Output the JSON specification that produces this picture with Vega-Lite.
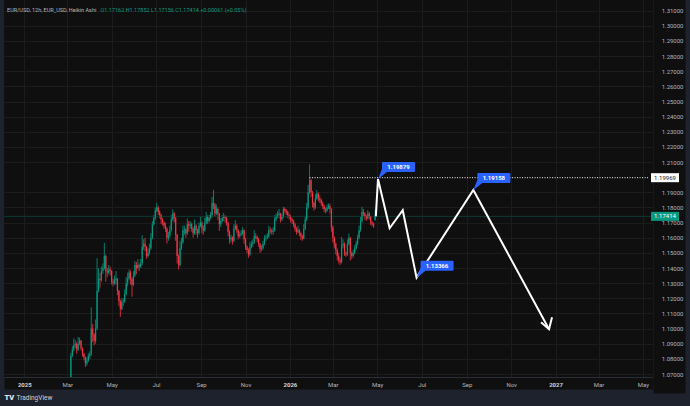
{
  "$schema": "https://vega.github.io/schema/vega-lite/v6.json",
  "width": 649,
  "height": 377,
  "autosize": {"type": "none"},
  "padding": {"left": 4, "top": 0, "right": 37, "bottom": 29},
  "background": "#1e222d",
  "config": {"view": {"fill": "#0f0f0f", "stroke": null}, "font": "Roboto"},
  "title": {"text": "EUR/USD, 12h, EUR_USD, Heikin Ashi", "orient": "top", "anchor": "start", "frame": "group", "offset": -15, "dx": 3, "fontSize": 5.5, "fontWeight": "normal", "color": "#b2b5be", "baseline": "middle"},
  "resolve": {"axis": {"x": "independent", "y": "independent"}},
  "datasets": {
    "candles": [
      {"t":"2025-03-04","o":1.048,"h":1.0665,"l":1.047,"c":1.065},
      {"t":"2025-03-06","o":1.065,"h":1.084,"l":1.064,"c":1.082},
      {"t":"2025-03-08","o":1.082,"h":1.0885,"l":1.081,"c":1.086},
      {"t":"2025-03-10","o":1.086,"h":1.0936,"l":1.085,"c":1.089},
      {"t":"2025-03-12","o":1.089,"h":1.0925,"l":1.087,"c":1.09},
      {"t":"2025-03-14","o":1.09,"h":1.091,"l":1.0835,"c":1.086},
      {"t":"2025-03-16","o":1.086,"h":1.0945,"l":1.085,"c":1.09},
      {"t":"2025-03-18","o":1.09,"h":1.094,"l":1.089,"c":1.092},
      {"t":"2025-03-20","o":1.092,"h":1.0925,"l":1.0855,"c":1.087},
      {"t":"2025-03-22","o":1.087,"h":1.0875,"l":1.0815,"c":1.083},
      {"t":"2025-03-24","o":1.083,"h":1.084,"l":1.079,"c":1.081},
      {"t":"2025-03-26","o":1.081,"h":1.0815,"l":1.0746,"c":1.077},
      {"t":"2025-03-28","o":1.077,"h":1.081,"l":1.0755,"c":1.079},
      {"t":"2025-03-30","o":1.079,"h":1.0837,"l":1.078,"c":1.082},
      {"t":"2025-04-01","o":1.082,"h":1.085,"l":1.08,"c":1.083},
      {"t":"2025-04-03","o":1.083,"h":1.114,"l":1.082,"c":1.1},
      {"t":"2025-04-05","o":1.1,"h":1.103,"l":1.091,"c":1.096},
      {"t":"2025-04-07","o":1.096,"h":1.097,"l":1.089,"c":1.092},
      {"t":"2025-04-09","o":1.092,"h":1.106,"l":1.09,"c":1.1},
      {"t":"2025-04-11","o":1.1,"h":1.1465,"l":1.099,"c":1.125},
      {"t":"2025-04-13","o":1.125,"h":1.14,"l":1.124,"c":1.133},
      {"t":"2025-04-15","o":1.133,"h":1.137,"l":1.127,"c":1.132},
      {"t":"2025-04-17","o":1.132,"h":1.141,"l":1.131,"c":1.138},
      {"t":"2025-04-19","o":1.138,"h":1.143,"l":1.136,"c":1.14},
      {"t":"2025-04-21","o":1.14,"h":1.1566,"l":1.139,"c":1.148},
      {"t":"2025-04-23","o":1.148,"h":1.149,"l":1.131,"c":1.138},
      {"t":"2025-04-25","o":1.138,"h":1.14,"l":1.134,"c":1.137},
      {"t":"2025-04-27","o":1.137,"h":1.142,"l":1.136,"c":1.139},
      {"t":"2025-04-29","o":1.139,"h":1.141,"l":1.135,"c":1.138},
      {"t":"2025-05-01","o":1.138,"h":1.1385,"l":1.129,"c":1.131},
      {"t":"2025-05-03","o":1.131,"h":1.133,"l":1.128,"c":1.13},
      {"t":"2025-05-05","o":1.13,"h":1.135,"l":1.129,"c":1.132},
      {"t":"2025-05-07","o":1.132,"h":1.138,"l":1.129,"c":1.133},
      {"t":"2025-05-09","o":1.133,"h":1.1335,"l":1.122,"c":1.125},
      {"t":"2025-05-11","o":1.125,"h":1.1255,"l":1.115,"c":1.118},
      {"t":"2025-05-13","o":1.118,"h":1.119,"l":1.1077,"c":1.113},
      {"t":"2025-05-15","o":1.113,"h":1.12,"l":1.112,"c":1.1175},
      {"t":"2025-05-17","o":1.1175,"h":1.12,"l":1.115,"c":1.118},
      {"t":"2025-05-19","o":1.118,"h":1.126,"l":1.117,"c":1.123},
      {"t":"2025-05-21","o":1.123,"h":1.134,"l":1.122,"c":1.13},
      {"t":"2025-05-23","o":1.13,"h":1.137,"l":1.128,"c":1.133},
      {"t":"2025-05-25","o":1.133,"h":1.139,"l":1.132,"c":1.137},
      {"t":"2025-05-27","o":1.137,"h":1.1385,"l":1.129,"c":1.133},
      {"t":"2025-05-29","o":1.133,"h":1.134,"l":1.121,"c":1.129},
      {"t":"2025-05-31","o":1.129,"h":1.138,"l":1.128,"c":1.135},
      {"t":"2025-06-02","o":1.135,"h":1.1445,"l":1.134,"c":1.142},
      {"t":"2025-06-04","o":1.142,"h":1.144,"l":1.136,"c":1.14},
      {"t":"2025-06-06","o":1.14,"h":1.146,"l":1.139,"c":1.142},
      {"t":"2025-06-08","o":1.142,"h":1.143,"l":1.138,"c":1.141},
      {"t":"2025-06-10","o":1.141,"h":1.146,"l":1.14,"c":1.143},
      {"t":"2025-06-12","o":1.143,"h":1.1617,"l":1.142,"c":1.154},
      {"t":"2025-06-14","o":1.154,"h":1.159,"l":1.152,"c":1.156},
      {"t":"2025-06-16","o":1.156,"h":1.16,"l":1.151,"c":1.154},
      {"t":"2025-06-18","o":1.154,"h":1.1545,"l":1.146,"c":1.148},
      {"t":"2025-06-20","o":1.148,"h":1.153,"l":1.147,"c":1.15},
      {"t":"2025-06-22","o":1.15,"h":1.156,"l":1.149,"c":1.153},
      {"t":"2025-06-24","o":1.153,"h":1.163,"l":1.152,"c":1.16},
      {"t":"2025-06-26","o":1.16,"h":1.171,"l":1.159,"c":1.169},
      {"t":"2025-06-28","o":1.169,"h":1.175,"l":1.168,"c":1.173},
      {"t":"2025-06-30","o":1.173,"h":1.18,"l":1.172,"c":1.178},
      {"t":"2025-07-02","o":1.178,"h":1.183,"l":1.177,"c":1.18},
      {"t":"2025-07-04","o":1.18,"h":1.181,"l":1.175,"c":1.177},
      {"t":"2025-07-06","o":1.177,"h":1.178,"l":1.173,"c":1.175},
      {"t":"2025-07-08","o":1.175,"h":1.176,"l":1.169,"c":1.172},
      {"t":"2025-07-10","o":1.172,"h":1.173,"l":1.168,"c":1.17},
      {"t":"2025-07-12","o":1.17,"h":1.171,"l":1.166,"c":1.168},
      {"t":"2025-07-14","o":1.168,"h":1.17,"l":1.164,"c":1.166},
      {"t":"2025-07-16","o":1.166,"h":1.167,"l":1.1562,"c":1.16},
      {"t":"2025-07-18","o":1.16,"h":1.164,"l":1.158,"c":1.1615},
      {"t":"2025-07-20","o":1.1615,"h":1.168,"l":1.16,"c":1.165},
      {"t":"2025-07-22","o":1.165,"h":1.175,"l":1.164,"c":1.172},
      {"t":"2025-07-24","o":1.172,"h":1.1788,"l":1.171,"c":1.176},
      {"t":"2025-07-26","o":1.176,"h":1.177,"l":1.17,"c":1.173},
      {"t":"2025-07-28","o":1.173,"h":1.174,"l":1.158,"c":1.162},
      {"t":"2025-07-30","o":1.162,"h":1.1625,"l":1.143,"c":1.148},
      {"t":"2025-08-01","o":1.148,"h":1.149,"l":1.1391,"c":1.142},
      {"t":"2025-08-03","o":1.142,"h":1.158,"l":1.141,"c":1.153},
      {"t":"2025-08-05","o":1.153,"h":1.16,"l":1.152,"c":1.157},
      {"t":"2025-08-07","o":1.157,"h":1.168,"l":1.156,"c":1.165},
      {"t":"2025-08-09","o":1.165,"h":1.168,"l":1.162,"c":1.1655},
      {"t":"2025-08-11","o":1.1655,"h":1.1665,"l":1.16,"c":1.163},
      {"t":"2025-08-13","o":1.163,"h":1.1727,"l":1.162,"c":1.169},
      {"t":"2025-08-15","o":1.169,"h":1.171,"l":1.164,"c":1.168},
      {"t":"2025-08-17","o":1.168,"h":1.171,"l":1.166,"c":1.169},
      {"t":"2025-08-19","o":1.169,"h":1.17,"l":1.164,"c":1.166},
      {"t":"2025-08-21","o":1.166,"h":1.167,"l":1.16,"c":1.163},
      {"t":"2025-08-23","o":1.163,"h":1.172,"l":1.162,"c":1.168},
      {"t":"2025-08-25","o":1.168,"h":1.169,"l":1.162,"c":1.165},
      {"t":"2025-08-27","o":1.165,"h":1.166,"l":1.16,"c":1.163},
      {"t":"2025-08-29","o":1.163,"h":1.17,"l":1.162,"c":1.168},
      {"t":"2025-08-31","o":1.168,"h":1.174,"l":1.167,"c":1.17},
      {"t":"2025-09-02","o":1.17,"h":1.171,"l":1.163,"c":1.166},
      {"t":"2025-09-04","o":1.166,"h":1.168,"l":1.162,"c":1.165},
      {"t":"2025-09-06","o":1.165,"h":1.173,"l":1.164,"c":1.17},
      {"t":"2025-09-08","o":1.17,"h":1.177,"l":1.169,"c":1.174},
      {"t":"2025-09-10","o":1.174,"h":1.175,"l":1.169,"c":1.171},
      {"t":"2025-09-12","o":1.171,"h":1.175,"l":1.17,"c":1.173},
      {"t":"2025-09-14","o":1.173,"h":1.177,"l":1.172,"c":1.175},
      {"t":"2025-09-16","o":1.175,"h":1.187,"l":1.174,"c":1.183},
      {"t":"2025-09-18","o":1.183,"h":1.1915,"l":1.179,"c":1.182},
      {"t":"2025-09-20","o":1.182,"h":1.183,"l":1.174,"c":1.176},
      {"t":"2025-09-22","o":1.176,"h":1.182,"l":1.175,"c":1.179},
      {"t":"2025-09-24","o":1.179,"h":1.18,"l":1.172,"c":1.176},
      {"t":"2025-09-26","o":1.176,"h":1.1765,"l":1.1645,"c":1.169},
      {"t":"2025-09-28","o":1.169,"h":1.173,"l":1.167,"c":1.171},
      {"t":"2025-09-30","o":1.171,"h":1.175,"l":1.17,"c":1.173},
      {"t":"2025-10-02","o":1.173,"h":1.1765,"l":1.171,"c":1.174},
      {"t":"2025-10-04","o":1.174,"h":1.175,"l":1.17,"c":1.173},
      {"t":"2025-10-06","o":1.173,"h":1.174,"l":1.168,"c":1.17},
      {"t":"2025-10-08","o":1.17,"h":1.1705,"l":1.161,"c":1.164},
      {"t":"2025-10-10","o":1.164,"h":1.165,"l":1.156,"c":1.159},
      {"t":"2025-10-12","o":1.159,"h":1.162,"l":1.157,"c":1.16},
      {"t":"2025-10-14","o":1.16,"h":1.161,"l":1.1555,"c":1.158},
      {"t":"2025-10-16","o":1.158,"h":1.169,"l":1.157,"c":1.166},
      {"t":"2025-10-18","o":1.166,"h":1.1716,"l":1.165,"c":1.168},
      {"t":"2025-10-20","o":1.168,"h":1.169,"l":1.163,"c":1.165},
      {"t":"2025-10-22","o":1.165,"h":1.1655,"l":1.159,"c":1.161},
      {"t":"2025-10-24","o":1.161,"h":1.164,"l":1.16,"c":1.162},
      {"t":"2025-10-26","o":1.162,"h":1.165,"l":1.161,"c":1.163},
      {"t":"2025-10-28","o":1.163,"h":1.167,"l":1.162,"c":1.165},
      {"t":"2025-10-30","o":1.165,"h":1.1655,"l":1.156,"c":1.159},
      {"t":"2025-11-01","o":1.159,"h":1.16,"l":1.152,"c":1.154},
      {"t":"2025-11-03","o":1.154,"h":1.155,"l":1.15,"c":1.152},
      {"t":"2025-11-05","o":1.152,"h":1.153,"l":1.1468,"c":1.149},
      {"t":"2025-11-07","o":1.149,"h":1.157,"l":1.148,"c":1.154},
      {"t":"2025-11-09","o":1.154,"h":1.158,"l":1.153,"c":1.156},
      {"t":"2025-11-11","o":1.156,"h":1.159,"l":1.154,"c":1.157},
      {"t":"2025-11-13","o":1.157,"h":1.165,"l":1.156,"c":1.161},
      {"t":"2025-11-15","o":1.161,"h":1.163,"l":1.159,"c":1.1605},
      {"t":"2025-11-17","o":1.1605,"h":1.1615,"l":1.157,"c":1.159},
      {"t":"2025-11-19","o":1.159,"h":1.16,"l":1.154,"c":1.156},
      {"t":"2025-11-21","o":1.156,"h":1.1565,"l":1.15,"c":1.1525},
      {"t":"2025-11-23","o":1.1525,"h":1.155,"l":1.151,"c":1.153},
      {"t":"2025-11-25","o":1.153,"h":1.158,"l":1.152,"c":1.156},
      {"t":"2025-11-27","o":1.156,"h":1.1617,"l":1.155,"c":1.1595},
      {"t":"2025-11-29","o":1.1595,"h":1.162,"l":1.158,"c":1.16},
      {"t":"2025-12-01","o":1.16,"h":1.163,"l":1.159,"c":1.161},
      {"t":"2025-12-03","o":1.161,"h":1.168,"l":1.16,"c":1.165},
      {"t":"2025-12-05","o":1.165,"h":1.167,"l":1.163,"c":1.1645},
      {"t":"2025-12-07","o":1.1645,"h":1.166,"l":1.162,"c":1.164},
      {"t":"2025-12-09","o":1.164,"h":1.167,"l":1.162,"c":1.165},
      {"t":"2025-12-11","o":1.165,"h":1.175,"l":1.164,"c":1.172},
      {"t":"2025-12-13","o":1.172,"h":1.176,"l":1.171,"c":1.174},
      {"t":"2025-12-15","o":1.174,"h":1.1775,"l":1.173,"c":1.175},
      {"t":"2025-12-17","o":1.175,"h":1.179,"l":1.173,"c":1.176},
      {"t":"2025-12-19","o":1.176,"h":1.1765,"l":1.17,"c":1.172},
      {"t":"2025-12-21","o":1.172,"h":1.176,"l":1.171,"c":1.174},
      {"t":"2025-12-23","o":1.174,"h":1.1805,"l":1.173,"c":1.179},
      {"t":"2025-12-25","o":1.179,"h":1.18,"l":1.176,"c":1.178},
      {"t":"2025-12-27","o":1.178,"h":1.179,"l":1.175,"c":1.177},
      {"t":"2025-12-29","o":1.177,"h":1.178,"l":1.173,"c":1.175},
      {"t":"2025-12-31","o":1.175,"h":1.176,"l":1.172,"c":1.174},
      {"t":"2026-01-02","o":1.174,"h":1.175,"l":1.17,"c":1.172},
      {"t":"2026-01-04","o":1.172,"h":1.173,"l":1.169,"c":1.171},
      {"t":"2026-01-06","o":1.171,"h":1.172,"l":1.167,"c":1.169},
      {"t":"2026-01-08","o":1.169,"h":1.17,"l":1.164,"c":1.166},
      {"t":"2026-01-10","o":1.166,"h":1.167,"l":1.162,"c":1.164},
      {"t":"2026-01-12","o":1.164,"h":1.168,"l":1.163,"c":1.165},
      {"t":"2026-01-14","o":1.165,"h":1.166,"l":1.161,"c":1.163},
      {"t":"2026-01-16","o":1.163,"h":1.164,"l":1.1585,"c":1.161},
      {"t":"2026-01-18","o":1.161,"h":1.162,"l":1.158,"c":1.1595},
      {"t":"2026-01-20","o":1.1595,"h":1.169,"l":1.159,"c":1.166},
      {"t":"2026-01-22","o":1.166,"h":1.1745,"l":1.165,"c":1.172},
      {"t":"2026-01-24","o":1.172,"h":1.183,"l":1.171,"c":1.18},
      {"t":"2026-01-26","o":1.18,"h":1.195,"l":1.179,"c":1.19},
      {"t":"2026-01-28","o":1.19,"h":1.2085,"l":1.189,"c":1.198},
      {"t":"2026-01-30","o":1.198,"h":1.199,"l":1.187,"c":1.19},
      {"t":"2026-02-01","o":1.19,"h":1.191,"l":1.18,"c":1.183},
      {"t":"2026-02-03","o":1.183,"h":1.184,"l":1.1778,"c":1.18},
      {"t":"2026-02-05","o":1.18,"h":1.189,"l":1.179,"c":1.186},
      {"t":"2026-02-07","o":1.186,"h":1.1915,"l":1.185,"c":1.189},
      {"t":"2026-02-09","o":1.189,"h":1.19,"l":1.184,"c":1.186},
      {"t":"2026-02-11","o":1.186,"h":1.188,"l":1.183,"c":1.185},
      {"t":"2026-02-13","o":1.185,"h":1.186,"l":1.181,"c":1.183},
      {"t":"2026-02-15","o":1.183,"h":1.184,"l":1.179,"c":1.181},
      {"t":"2026-02-17","o":1.181,"h":1.182,"l":1.177,"c":1.179},
      {"t":"2026-02-19","o":1.179,"h":1.18,"l":1.176,"c":1.178},
      {"t":"2026-02-21","o":1.178,"h":1.182,"l":1.177,"c":1.18},
      {"t":"2026-02-23","o":1.18,"h":1.1826,"l":1.179,"c":1.181},
      {"t":"2026-02-25","o":1.181,"h":1.1826,"l":1.176,"c":1.179},
      {"t":"2026-02-27","o":1.179,"h":1.1795,"l":1.164,"c":1.167},
      {"t":"2026-03-01","o":1.167,"h":1.168,"l":1.157,"c":1.16},
      {"t":"2026-03-03","o":1.16,"h":1.161,"l":1.153,"c":1.156},
      {"t":"2026-03-05","o":1.156,"h":1.157,"l":1.149,"c":1.152},
      {"t":"2026-03-07","o":1.152,"h":1.153,"l":1.145,"c":1.148},
      {"t":"2026-03-09","o":1.148,"h":1.15,"l":1.143,"c":1.145},
      {"t":"2026-03-11","o":1.145,"h":1.147,"l":1.1419,"c":1.144},
      {"t":"2026-03-13","o":1.144,"h":1.1606,"l":1.143,"c":1.155},
      {"t":"2026-03-15","o":1.155,"h":1.159,"l":1.153,"c":1.156},
      {"t":"2026-03-17","o":1.156,"h":1.157,"l":1.148,"c":1.15},
      {"t":"2026-03-19","o":1.15,"h":1.151,"l":1.1474,"c":1.149},
      {"t":"2026-03-21","o":1.149,"h":1.159,"l":1.148,"c":1.156},
      {"t":"2026-03-23","o":1.156,"h":1.1628,"l":1.155,"c":1.16},
      {"t":"2026-03-25","o":1.16,"h":1.1605,"l":1.145,"c":1.15},
      {"t":"2026-03-27","o":1.15,"h":1.151,"l":1.146,"c":1.148},
      {"t":"2026-03-29","o":1.148,"h":1.152,"l":1.147,"c":1.15},
      {"t":"2026-03-31","o":1.15,"h":1.155,"l":1.149,"c":1.153},
      {"t":"2026-04-02","o":1.153,"h":1.158,"l":1.152,"c":1.156},
      {"t":"2026-04-04","o":1.156,"h":1.162,"l":1.155,"c":1.16},
      {"t":"2026-04-06","o":1.16,"h":1.168,"l":1.159,"c":1.165},
      {"t":"2026-04-08","o":1.165,"h":1.174,"l":1.164,"c":1.171},
      {"t":"2026-04-10","o":1.171,"h":1.1804,"l":1.17,"c":1.177},
      {"t":"2026-04-12","o":1.177,"h":1.179,"l":1.174,"c":1.176},
      {"t":"2026-04-14","o":1.176,"h":1.177,"l":1.172,"c":1.174},
      {"t":"2026-04-16","o":1.174,"h":1.175,"l":1.171,"c":1.173},
      {"t":"2026-04-18","o":1.173,"h":1.1782,"l":1.172,"c":1.176},
      {"t":"2026-04-20","o":1.176,"h":1.177,"l":1.172,"c":1.174},
      {"t":"2026-04-22","o":1.174,"h":1.1745,"l":1.1683,"c":1.17},
      {"t":"2026-04-24","o":1.17,"h":1.171,"l":1.1675,"c":1.169},
      {"t":"2026-04-26","o":1.169,"h":1.17,"l":1.1665,"c":1.168},
      {"t":"2026-04-28","o":1.17162,"h":1.17852,"l":1.17156,"c":1.17414}
    ],
    "projection": [
      {"i":0,"t":"2026-04-29","p":1.17414},
      {"i":1,"t":"2026-05-02","p":1.19879},
      {"i":2,"t":"2026-05-18","p":1.1663},
      {"i":3,"t":"2026-06-05","p":1.1782},
      {"i":4,"t":"2026-06-24","p":1.13366},
      {"i":5,"t":"2026-09-10","p":1.19158},
      {"i":6,"t":"2026-12-23","p":1.0996}
    ],
    "arrow": [{"t":"2026-12-23","p":1.0996}],
    "callouts": [
      {"t":"2026-05-02","p":1.19879,"lab":"1.19879"},
      {"t":"2026-06-24","p":1.13366,"lab":"1.13366"},
      {"t":"2026-09-10","p":1.19158,"lab":"1.19158"}
    ],
    "level": [{"t":"2026-01-28","t2":"2027-05-08","p":1.19969}],
    "last": [{"p":1.17414}],
    "scaleTags": [
      {"t":"2027-05-08","p":1.19969,"lab":"1.19969","kind":"level"},
      {"t":"2027-05-08","p":1.17414,"lab":"1.17414","kind":"last"}
    ]
  },
  "layer": [
    {
      "data": {"name": "candles"},
      "mark": {"type": "rule", "strokeWidth": 0.8, "clip": true},
      "encoding": {
        "x": {
          "field": "t", "type": "temporal",
          "scale": {"type": "utc", "domain": [{"year": 2024, "month": 12, "date": 11, "utc": true}, {"year": 2027, "month": 5, "date": 8, "utc": true}]},
          "axis": {
            "orient": "bottom", "offset": 6,
            "domain": true, "domainColor": "#0f0f0f", "domainWidth": 12, "domainCap": "butt",
            "ticks": false, "labels": false, "grid": false, "title": null
          }
        },
        "y": {
          "field": "l", "type": "quantitative",
          "scale": {"domain": [1.06802, 1.31707], "nice": false, "zero": false},
          "axis": {
            "orient": "right", "offset": 16,
            "domain": true, "domainColor": "#0f0f0f", "domainWidth": 32, "domainCap": "square",
            "ticks": false, "labels": false, "grid": false,
            "title": "TV",
            "titleX": -665, "titleY": 397, "titleAngle": 0, "titleAlign": "left", "titleBaseline": "middle",
            "titleFontSize": 7.5, "titleFontWeight": 900, "titleColor": "#e0e3eb"
          }
        },
        "y2": {"field": "h"},
        "color": {"condition": {"test": "datum.c >= datum.o", "value": "#089981"}, "value": "#f23645"}
      }
    },
    {
      "data": {"name": "last"},
      "mark": {"type": "rule", "color": "#0c3a33", "strokeWidth": 1},
      "encoding": {
        "y": {"field": "p", "type": "quantitative", "axis": null}
      }
    },
    {
      "data": {"name": "candles"},
      "mark": {"type": "bar", "size": 1.2, "clip": true},
      "encoding": {
        "x": {
          "field": "t", "type": "temporal",
          "axis": {
            "orient": "bottom", "offset": 0,
            "domain": true, "domainColor": "#2a2e39", "domainWidth": 1,
            "ticks": false, "tickSize": 0,
            "grid": true, "gridColor": "#1c1c1c", "gridWidth": 1,
            "values": [
              {"year": 2025, "month": 1, "date": 1, "utc": true},
              {"year": 2025, "month": 3, "date": 1, "utc": true},
              {"year": 2025, "month": 5, "date": 1, "utc": true},
              {"year": 2025, "month": 7, "date": 1, "utc": true},
              {"year": 2025, "month": 9, "date": 1, "utc": true},
              {"year": 2025, "month": 11, "date": 1, "utc": true},
              {"year": 2026, "month": 1, "date": 1, "utc": true},
              {"year": 2026, "month": 3, "date": 1, "utc": true},
              {"year": 2026, "month": 5, "date": 1, "utc": true},
              {"year": 2026, "month": 7, "date": 1, "utc": true},
              {"year": 2026, "month": 9, "date": 1, "utc": true},
              {"year": 2026, "month": 11, "date": 1, "utc": true},
              {"year": 2027, "month": 1, "date": 1, "utc": true},
              {"year": 2027, "month": 3, "date": 1, "utc": true},
              {"year": 2027, "month": 5, "date": 1, "utc": true}
            ],
            "labelExpr": "utcFormat(datum.value, '%m') == '01' ? utcFormat(datum.value, '%Y') : utcFormat(datum.value, '%b')",
            "labelFontSize": 6,
            "labelColor": {"condition": {"test": "utcFormat(datum.value, '%m') == '01'", "value": "#d1d4dc"}, "value": "#b2b5be"},
            "labelFontWeight": {"condition": {"test": "utcFormat(datum.value, '%m') == '01'", "value": "bold"}, "value": "normal"},
            "labelBaseline": "middle", "labelPadding": 7, "labelAlign": "center",
            "labelOverlap": false, "labelFlush": false, "labelBound": false,
            "title": "O1.17162 H1.17852 L1.17156 C1.17414 +0.00061 (+0.05%)",
            "titleX": 96, "titleY": -368, "titleAlign": "left", "titleBaseline": "middle",
            "titleFontSize": 5.5, "titleFontWeight": "normal", "titleColor": "#089981"
          }
        },
        "y": {
          "field": "o", "type": "quantitative",
          "axis": {
            "orient": "right", "offset": 0,
            "domain": false, "ticks": false, "tickSize": 0,
            "grid": true, "gridColor": "#1c1c1c", "gridWidth": 1,
            "values": [1.07,1.08,1.09,1.10,1.11,1.12,1.13,1.14,1.15,1.16,1.17,1.18,1.19,1.21,1.22,1.23,1.24,1.25,1.26,1.27,1.28,1.29,1.30,1.31],
            "format": ".5f",
            "labelFontSize": 6, "labelColor": "#b2b5be",
            "labelAlign": "right", "labelBaseline": "middle", "labelPadding": 30,
            "labelOverlap": false, "labelFlush": false, "labelBound": false,
            "title": "TradingView",
            "titleX": -637, "titleY": 397, "titleAngle": 0, "titleAlign": "left", "titleBaseline": "middle",
            "titleFontSize": 6.5, "titleFontWeight": "normal", "titleColor": "#d1d4dc"
          }
        },
        "y2": {"field": "c"},
        "color": {"condition": {"test": "datum.c >= datum.o", "value": "#089981"}, "value": "#f23645"}
      }
    },
    {
      "data": {"name": "level"},
      "mark": {"type": "rule", "color": "#ffffff", "strokeWidth": 1, "strokeDash": [1, 1.5]},
      "encoding": {
        "x": {"field": "t", "type": "temporal", "axis": null},
        "x2": {"field": "t2"},
        "y": {"field": "p", "type": "quantitative", "axis": null}
      }
    },
    {
      "data": {"name": "projection"},
      "mark": {"type": "line", "color": "#ffffff", "strokeWidth": 2},
      "encoding": {
        "x": {"field": "t", "type": "temporal", "axis": null},
        "y": {"field": "p", "type": "quantitative", "axis": null},
        "order": {"field": "i"}
      }
    },
    {
      "data": {"name": "arrow"},
      "mark": {"type": "point", "shape": "M-8,-7 L0,0 L3,-12", "size": 4, "filled": false, "stroke": "#ffffff", "strokeWidth": 2, "opacity": 1},
      "encoding": {
        "x": {"field": "t", "type": "temporal", "axis": null},
        "y": {"field": "p", "type": "quantitative", "axis": null}
      }
    },
    {
      "data": {"name": "callouts"},
      "mark": {"type": "point", "shape": "M5,-17 H36 Q37,-17 37,-16 V-8 Q37,-7 36,-7 H9 L0,0 L4,-10 V-16 Q4,-17 5,-17 Z", "size": 4, "filled": true, "fill": "#2962ff", "strokeWidth": 0, "opacity": 1},
      "encoding": {
        "x": {"field": "t", "type": "temporal", "axis": null},
        "y": {"field": "p", "type": "quantitative", "axis": null}
      }
    },
    {
      "data": {"name": "callouts"},
      "mark": {"type": "text", "dx": 20.5, "dy": -12, "align": "center", "baseline": "middle", "fontSize": 6, "fontWeight": "bold", "color": "#ffffff"},
      "encoding": {
        "x": {"field": "t", "type": "temporal", "axis": null},
        "y": {"field": "p", "type": "quantitative", "axis": null},
        "text": {"field": "lab"}
      }
    },
    {
      "data": {"name": "scaleTags"},
      "mark": {"type": "point", "shape": "M3,-4.5 H31 V4.5 H3 Z", "size": 4, "filled": true, "strokeWidth": 0, "opacity": 1},
      "encoding": {
        "x": {"field": "t", "type": "temporal", "axis": null},
        "y": {"field": "p", "type": "quantitative", "axis": null},
        "fill": {"field": "kind", "type": "nominal", "scale": {"domain": ["level", "last"], "range": ["#ffffff", "#089981"]}, "legend": null}
      }
    },
    {
      "data": {"name": "scaleTags"},
      "mark": {"type": "text", "dx": 17, "align": "center", "baseline": "middle", "fontSize": 6},
      "encoding": {
        "x": {"field": "t", "type": "temporal", "axis": null},
        "y": {"field": "p", "type": "quantitative", "axis": null},
        "text": {"field": "lab"},
        "color": {"field": "kind", "type": "nominal", "scale": {"domain": ["level", "last"], "range": ["#131722", "#ffffff"]}, "legend": null}
      }
    }
  ]
}
